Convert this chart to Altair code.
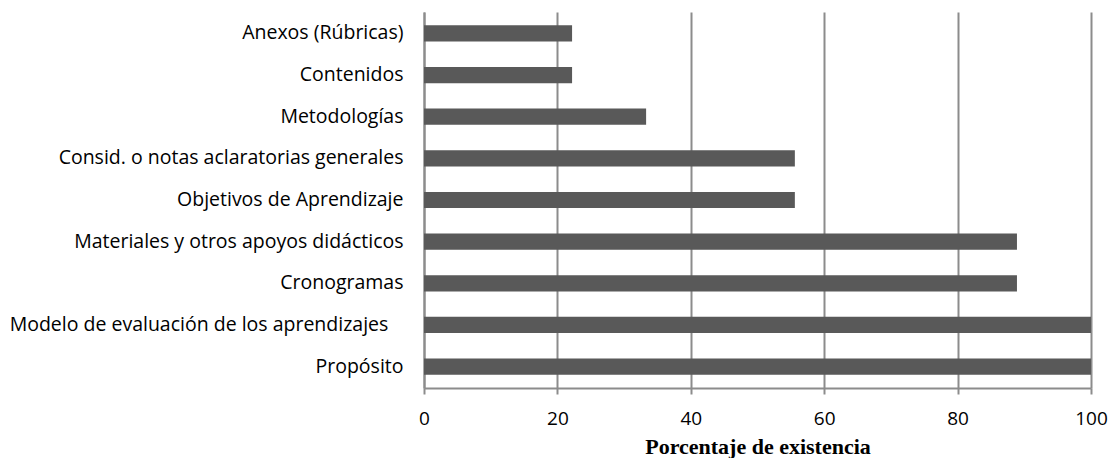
import altair as alt
import pandas as pd

categories = [
    "Anexos (Rúbricas)",
    "Contenidos",
    "Metodologías",
    "Consid. o notas aclaratorias generales",
    "Objetivos de Aprendizaje",
    "Materiales y otros apoyos didácticos",
    "Cronogramas",
    "Modelo de evaluación de los aprendizajes\u00a0\u00a0\u00a0\u200b",
    "Propósito",
]
values = [22.2, 22.2, 33.3, 55.6, 55.6, 88.9, 88.9, 100, 100]
x_ticks = [0, 20, 40, 60, 80, 100]

df = pd.DataFrame({"cat": categories, "val": values})

label_font = "Open Sans"
grey = "#8c8c8c"

chart = alt.Chart(df).mark_bar(color="#595959").encode(
    x=alt.X(
        "val:Q",
        scale=alt.Scale(domain=[0, 100], nice=False),
        axis=alt.Axis(
            values=x_ticks,
            title="Porcentaje de existencia",
            titleFont="Liberation Serif",
            titleFontSize=22,
            titleFontWeight="bold",
            titleColor="#000",
            titlePadding=8,
            labelFont=label_font,
            labelFontSize=19,
            labelColor="#000",
            labelPadding=15,
            tickSize=6,
            tickColor=grey,
            tickWidth=2,
            domainColor=grey,
            domainWidth=2,
            gridColor=grey,
            gridWidth=2,
            grid=True,
            labelFlush=False,
        ),
    ),
    y=alt.Y(
        "cat:N",
        sort=categories,
        scale=alt.Scale(paddingInner=0.61, paddingOuter=0.32),
        axis=alt.Axis(
            title=None,
            labelFont=label_font,
            labelFontSize=19.5,
            labelColor="#000",
            labelPadding=21,
            ticks=False,
            domainColor=grey,
            domainWidth=2,
            grid=False,
            labelLimit=500,
        ),
    ),
).properties(
    width=667,
    height=376,
    autosize=alt.AutoSizeParams(type="none"),
    padding={"left": 416, "top": 4, "right": 17, "bottom": 70},
).configure_view(stroke=None)

chart.save("out.html", embed_options={"renderer": "svg", "actions": False})
